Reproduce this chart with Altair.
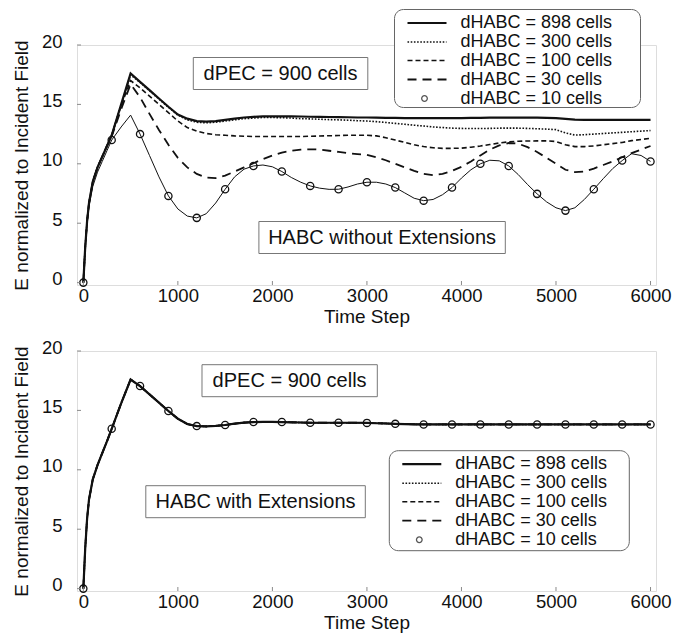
import altair as alt
import pandas as pd

# ---------------- data ----------------
TIME = [0, 20, 40, 60, 100, 150, 200, 250, 300, 400, 500] + list(range(600, 6001, 100))

# Top panel: HABC without extensions
TOP_898 = [0, 3.0, 5.2, 6.7, 8.5, 9.7, 10.6, 11.5, 12.4, 15.0, 17.6,
           16.9, 16.2, 15.5, 14.8, 14.15, 13.8, 13.6, 13.55, 13.6, 13.7,
           13.8, 13.9, 13.95, 14.0, 14.0, 14.0, 14.0, 13.98, 13.96, 13.95,
           13.94, 13.93, 13.92, 13.9, 13.9, 13.88, 13.87, 13.86, 13.85, 13.85,
           13.85, 13.85, 13.85, 13.85, 13.85, 13.86, 13.87, 13.88, 13.88, 13.88,
           13.88, 13.88, 13.88, 13.87, 13.85, 13.78, 13.72, 13.7, 13.7, 13.7,
           13.7, 13.7, 13.7, 13.7, 13.7]
TOP_300 = [0, 3.0, 5.2, 6.7, 8.5, 9.7, 10.6, 11.5, 12.4, 15.0, 17.5,
           16.85, 16.15, 15.45, 14.75, 14.1, 13.7, 13.5, 13.45, 13.5, 13.6,
           13.7, 13.8, 13.85, 13.9, 13.9, 13.88, 13.85, 13.8, 13.78, 13.75,
           13.72, 13.7, 13.67, 13.63, 13.6, 13.55, 13.48, 13.4, 13.33, 13.25,
           13.18, 13.1, 13.05, 13.0, 12.98, 12.97, 12.97, 12.98, 13.0, 13.0,
           13.0, 12.98, 12.95, 12.92, 12.88, 12.6, 12.42, 12.45, 12.5, 12.55,
           12.6, 12.65, 12.7, 12.75, 12.8]
TOP_100 = [0, 3.0, 5.2, 6.7, 8.5, 9.7, 10.6, 11.5, 12.4, 14.9, 17.0,
           16.4, 15.7, 15.0, 14.3, 13.6, 13.05, 12.75, 12.55, 12.45, 12.4,
           12.35, 12.32, 12.3, 12.3, 12.3, 12.3, 12.3, 12.3, 12.32, 12.34,
           12.36, 12.38, 12.4, 12.4, 12.4, 12.35, 12.2, 12.0, 11.8, 11.6,
           11.45, 11.35, 11.3, 11.3, 11.32, 11.4, 11.5, 11.62, 11.75, 11.85,
           11.9, 11.92, 11.93, 11.93, 11.88, 11.6, 11.45, 11.45, 11.5, 11.6,
           11.7, 11.8, 11.95, 12.05, 12.15]
TOP_30 = [0, 3.0, 5.2, 6.7, 8.5, 9.7, 10.6, 11.5, 12.3, 14.6, 16.7,
          15.6, 14.2, 12.85, 11.6, 10.5, 9.7, 9.15, 8.85, 8.8, 9.0,
          9.35, 9.7, 10.05, 10.4, 10.7, 10.95, 11.1, 11.2, 11.22, 11.2,
          11.1, 11.0, 10.9, 10.82, 10.75, 10.55, 10.3, 10.0, 9.7, 9.4,
          9.15, 9.05, 9.15, 9.4, 9.75, 10.2, 10.7, 11.2, 11.55, 11.75,
          11.7, 11.4, 11.0, 10.5, 10.0, 9.5, 9.3, 9.35, 9.6, 9.9,
          10.2, 10.55, 10.9, 11.2, 11.5]
TOP_10 = [0, 2.9, 5.0, 6.4, 8.1, 9.3, 10.2, 11.1, 12.0, 13.1, 14.1,
          12.5, 10.7, 8.9, 7.3, 6.2, 5.6, 5.45, 5.8, 6.7, 7.86,
          8.9, 9.55, 9.82, 9.9, 9.75, 9.35, 8.85, 8.45, 8.14, 7.95,
          7.85, 7.86, 8.05, 8.3, 8.45, 8.45, 8.3, 8.0, 7.55, 7.1,
          6.9, 7.0, 7.4, 8.0, 8.8, 9.5, 10.0, 10.3, 10.25, 9.82,
          9.1, 8.25, 7.47, 6.8, 6.3, 6.06, 6.3, 7.0, 7.86, 8.75,
          9.6, 10.27, 10.85, 10.7, 10.2]

# Bottom panel: HABC with extensions (all five curves coincide in the reference)
EXT_ALL = [0, 3.4, 5.9, 7.5, 9.2, 10.4, 11.4, 12.4, 13.45, 15.6, 17.6,
           17.05, 16.35, 15.65, 14.95, 14.3, 13.85, 13.68, 13.65, 13.7, 13.77,
           13.88, 13.97, 14.02, 14.03, 14.03, 14.02, 14.0, 13.98, 13.96, 13.96,
           13.96, 13.96, 13.96, 13.96, 13.95, 13.92, 13.9, 13.87, 13.85, 13.83,
           13.82, 13.82, 13.82, 13.82, 13.82, 13.82, 13.82, 13.82, 13.82, 13.82,
           13.82, 13.82, 13.82, 13.82, 13.82, 13.82, 13.82, 13.82, 13.82, 13.82,
           13.82, 13.82, 13.82, 13.82, 13.82]

SERIES = ["898", "300", "100", "30", "10"]
LABELS = ["dHABC = 898 cells", "dHABC = 300 cells", "dHABC = 100 cells",
          "dHABC = 30 cells", "dHABC = 10 cells"]
X_TICKS = [0, 1000, 2000, 3000, 4000, 5000, 6000]
Y_TICKS = [0, 5, 10, 15, 20]
MARKER_EVERY = 300

# ---------------- styling ----------------
FONT = "Liberation Sans"
INK = "#111111"
FRAME = "#8a8a8a"
W, H = 579, 240
X_DOMAIN = [-67, 6058]
Y_DOMAIN = [-0.2, 20]
STYLE = {
    "898": dict(strokeWidth=2.2),
    "300": dict(strokeWidth=1.6, strokeDash=[1.6, 1.6]),
    "100": dict(strokeWidth=1.6, strokeDash=[5, 3]),
    "30": dict(strokeWidth=1.8, strokeDash=[9, 6]),
    "10": dict(strokeWidth=1.0),
}

xs = alt.Scale(domain=X_DOMAIN, nice=False, zero=False)
ys = alt.Scale(domain=Y_DOMAIN, nice=False, zero=False)
xaxis = alt.Axis(values=X_TICKS, ticks=False, tickSize=0, domain=False, grid=False,
                 labelFont=FONT, labelFontSize=18.5, labelColor=INK, labelPadding=1,
                 labelFlush=False, format="d", title="Time Step", titleFont=FONT,
                 titleFontSize=19, titleFontWeight="normal", titleColor=INK, titlePadding=3)
yaxis = alt.Axis(values=Y_TICKS, ticks=False, tickSize=0, domain=False, grid=False,
                 labelFont=FONT, labelFontSize=18.5, labelColor=INK, labelPadding=15,
                 labelOffset=-4, labelFlush=False, format="d",
                 title="E normalized to Incident Field", titleFont=FONT, titleFontSize=19,
                 titleFontWeight="normal", titleColor=INK, titlePadding=10)

ONE = pd.DataFrame({"k": [0]})


def box(x1, x2, y1, y2, radius=0, stroke="#777777"):
    return alt.Chart(ONE).mark_rect(fill="white", stroke=stroke, strokeWidth=1,
                                    cornerRadius=radius).encode(
        x=alt.value(x1), x2=alt.value(x2), y=alt.value(y1), y2=alt.value(y2))


def label(x, y, txt, align="center", size=20):
    return alt.Chart(ONE).mark_text(font=FONT, fontSize=size, color=INK, align=align,
                                    baseline="middle").encode(
        x=alt.value(x), y=alt.value(y), text=alt.value(txt))


def legend(left, top, width, height, rows):
    layers = [box(left, left + width, top, top + height, radius=9, stroke="#666666")]
    for i, s in enumerate(SERIES):
        yy = top + rows[i]
        if s == "10":
            layers.append(alt.Chart(ONE).mark_point(shape="circle", filled=False, size=32,
                                                    strokeWidth=1.3, color=INK).encode(
                x=alt.value(left + 30), y=alt.value(yy)))
        else:
            layers.append(alt.Chart(ONE).mark_rule(color=INK, **STYLE[s]).encode(
                x=alt.value(left + 13), x2=alt.value(left + 52), y=alt.value(yy)))
        layers.append(label(left + 66, yy, LABELS[i], align="left", size=18))
    return layers


def panel(values, extras):
    frames = []
    for s, v in zip(SERIES, values):
        frames.append(pd.DataFrame({"t": TIME, "v": v, "series": s}))
    df = pd.concat(frames, ignore_index=True)
    layers = []
    order = ["10", "30", "100", "300", "898"]
    for s in order:
        layers.append(alt.Chart(df).transform_filter(alt.datum.series == s)
                      .mark_line(color=INK, **STYLE[s]).encode(
            x=alt.X("t:Q", scale=xs, axis=xaxis),
            y=alt.Y("v:Q", scale=ys, axis=yaxis)))
    layers.append(alt.Chart(df).transform_filter(
        (alt.datum.series == "10") & (alt.datum.t % MARKER_EVERY == 0))
        .mark_point(shape="circle", filled=False, size=52, strokeWidth=1.3, color=INK, opacity=1)
        .encode(x=alt.X("t:Q", scale=xs, axis=xaxis), y=alt.Y("v:Q", scale=ys, axis=yaxis)))
    # inward ticks
    layers.append(alt.Chart(pd.DataFrame({"tick": X_TICKS})).mark_rule(color=FRAME, strokeWidth=1)
                  .encode(x=alt.X("tick:Q", scale=xs, axis=xaxis), y=alt.value(H), y2=alt.value(H - 4)))
    layers.append(alt.Chart(pd.DataFrame({"tick": Y_TICKS})).mark_rule(color=FRAME, strokeWidth=1)
                  .encode(y=alt.Y("tick:Q", scale=ys, axis=yaxis), x=alt.value(0), x2=alt.value(4)))
    layers += extras
    return alt.layer(*layers).properties(width=W, height=H)


ROWS = [13.5, 32.5, 51, 70, 89]
top_extras = ([box(116.3, 290.8, 12.5, 44.5), label(203.5, 28.5, "dPEC = 900 cells"),
               box(181.9, 428.3, 176.5, 208.5), label(305.1, 192.5, "HABC without Extensions")]
              + legend(317.5, -35.5, 246, 98, ROWS))
bottom_extras = ([box(125, 300.3, 13.7, 45.7), label(212.6, 29.7, "dPEC = 900 cells"),
                  box(68.8, 288.3, 134.7, 166.7), label(178.5, 150.7, "HABC with Extensions")]
                 + legend(312.3, 99.7, 240, 100, ROWS))

top = panel([TOP_898, TOP_300, TOP_100, TOP_30, TOP_10], top_extras)
bottom = panel([EXT_ALL] * 5, bottom_extras)

chart = (alt.vconcat(top, bottom, spacing=10)
         .properties(padding={"left": 3, "top": 0, "right": 5, "bottom": 5})
         .configure_view(stroke=FRAME, strokeWidth=1)
         .configure(background="white"))

chart.save("out.html", embed_options={"renderer": "svg", "actions": False})
